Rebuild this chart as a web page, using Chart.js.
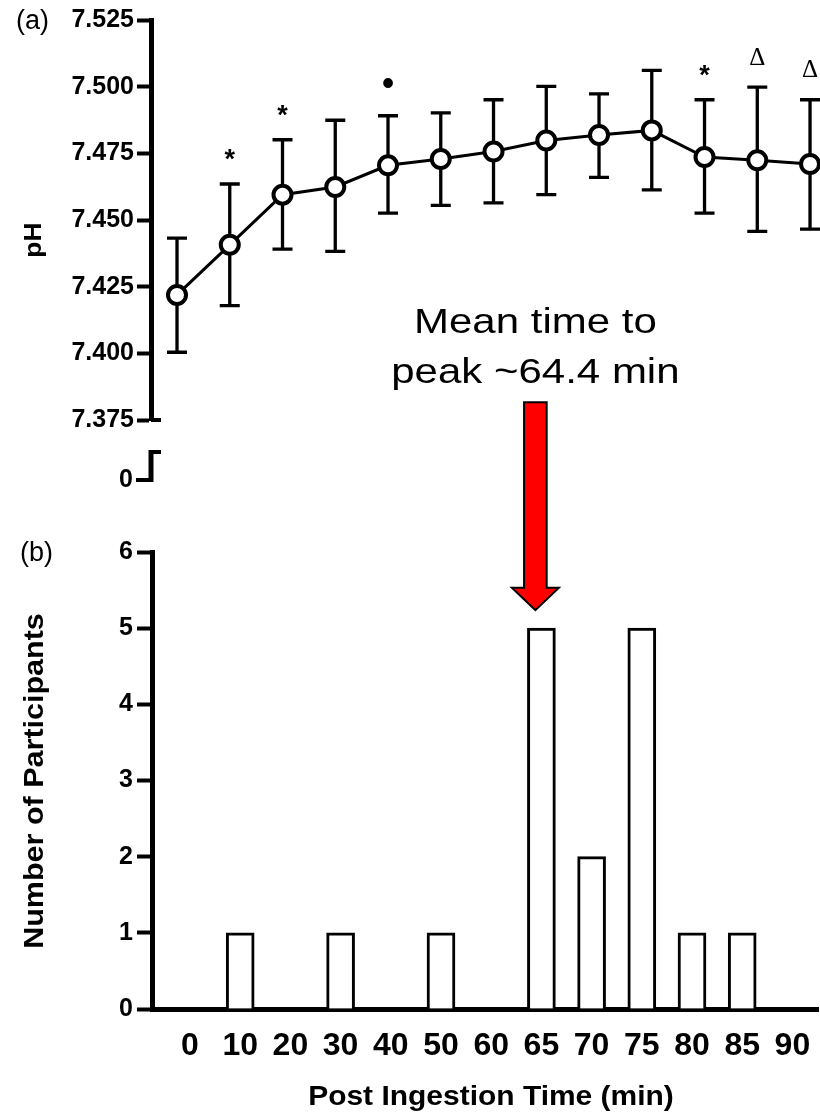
<!DOCTYPE html>
<html lang="en">

<head>
    <meta charset="UTF-8">
    <title>pH and time to peak</title>
    <style>
        body { margin: 0; background: #fff; }
        .wrap { position: relative; width: 820px; height: 1112px; }
        .wrap canvas { position: absolute; left: 0; top: 0; }
    </style>
</head>

<body>
    <div class="wrap">
        <canvas id="phChart" width="820" height="500"></canvas>
        <canvas id="countChart" width="820" height="1112"></canvas>
    </div>

    <script src="https://cdn.jsdelivr.net/npm/chart.js"></script>
    <script>
        // time points (min) - same categories for both panels
        const timeLabels = ['0', '10', '20', '30', '40', '50', '60', '65', '70', '75', '80', '85', '90'];

        // panel (a): mean pH with the top / bottom of each error bar
        const phMean = [7.4219, 7.4407, 7.4595, 7.4624, 7.4705, 7.4729, 7.4757, 7.4798, 7.4819, 7.4836, 7.4736, 7.4724, 7.4710];
        const phUpper = [7.4432, 7.4635, 7.4801, 7.4874, 7.4891, 7.4902, 7.4951, 7.5001, 7.4973, 7.5061, 7.4951, 7.4998, 7.4951];
        const phLower = [7.4004, 7.4179, 7.4391, 7.4382, 7.4526, 7.4555, 7.4564, 7.4595, 7.4660, 7.4613, 7.4526, 7.4457, 7.4466];
        const phMarks = ['', '*', '*', '', '•', '', '', '', '', '', '*', 'Δ', 'Δ'];
        const phTicks = [7.375, 7.400, 7.425, 7.450, 7.475, 7.500, 7.525];

        // panel (b): number of participants peaking at each time point
        const peakCounts = [0, 1, 0, 1, 0, 1, 0, 5, 2, 5, 1, 1, 0];
        const countTicks = [0, 1, 2, 3, 4, 5, 6];
        const meanPeakTime = 64.4;

        const FONT = "'Liberation Sans', Arial, sans-serif";

        const errorBars = {
            id: 'errorBars',
            beforeDatasetsDraw(chart) {
                const { ctx, scales: { x, y } } = chart;
                ctx.save();
                ctx.strokeStyle = '#000';
                ctx.lineWidth = 3.3;
                for (let i = 0; i < phMean.length; i++) {
                    const px = x.getPixelForValue(i);
                    const top = y.getPixelForValue(phUpper[i]);
                    const bot = y.getPixelForValue(phLower[i]);
                    ctx.beginPath();
                    ctx.moveTo(px, top); ctx.lineTo(px, bot);
                    ctx.moveTo(px - 10, top); ctx.lineTo(px + 10, top);
                    ctx.moveTo(px - 10, bot); ctx.lineTo(px + 10, bot);
                    ctx.stroke();
                }
                ctx.restore();
            }
        };

        const phExtras = {
            id: 'phExtras',
            afterDraw(chart) {
                const { ctx, scales: { x, y } } = chart;
                const ax = chart.chartArea.left;
                const yb = y.bottom;
                ctx.save();
                ctx.fillStyle = '#000';
                ctx.strokeStyle = '#000';

                // significance symbols above the error bars
                ctx.textAlign = 'center';
                for (let i = 0; i < phMarks.length; i++) {
                    const m = phMarks[i];
                    if (!m) continue;
                    const px = x.getPixelForValue(i);
                    const py = y.getPixelForValue(phUpper[i]) - 31;
                    if (m === '*') {
                        ctx.font = 'bold 27px ' + FONT;
                        ctx.textBaseline = 'alphabetic';
                        ctx.fillText(m, px, py + 15);
                    } else if (m === '•') {
                        ctx.font = '36px ' + FONT;
                        ctx.textBaseline = 'middle';
                        ctx.fillText(m, px, py);
                    } else {
                        ctx.font = "25px 'Liberation Serif', 'Times New Roman', serif";
                        ctx.textBaseline = 'middle';
                        ctx.fillText(m, px, py + 2);
                    }
                }

                // axis break down to 0
                ctx.lineWidth = 4;
                ctx.beginPath();
                ctx.moveTo(ax, yb); ctx.lineTo(ax + 10, yb);
                ctx.moveTo(ax - 2, yb + 32); ctx.lineTo(ax + 10, yb + 32);
                ctx.moveTo(ax - 15, yb + 60); ctx.lineTo(ax + 2, yb + 60);
                ctx.stroke();
                ctx.lineWidth = 5;
                ctx.beginPath();
                ctx.moveTo(ax, yb + 30); ctx.lineTo(ax, yb + 62);
                ctx.stroke();
                ctx.font = 'bold 25px ' + FONT;
                ctx.textAlign = 'right';
                ctx.textBaseline = 'middle';
                ctx.fillText('0', ax - 18, yb + 60);

                // panel letter and axis title
                ctx.font = '27px ' + FONT;
                ctx.textAlign = 'left';
                ctx.textBaseline = 'alphabetic';
                ctx.fillText('(a)', 16, 29);

                ctx.translate(41, 240);
                ctx.rotate(-Math.PI / 2);
                ctx.scale(1.15, 1);
                ctx.font = 'bold 23px ' + FONT;
                ctx.textAlign = 'center';
                ctx.fillText('pH', 0, 0);
                ctx.restore();
            }
        };

        const countExtras = {
            id: 'countExtras',
            afterDraw(chart) {
                const { ctx, scales: { x, y } } = chart;
                ctx.save();
                ctx.fillStyle = '#000';

                ctx.font = '27px ' + FONT;
                ctx.textAlign = 'left';
                ctx.textBaseline = 'alphabetic';
                ctx.fillText('(b)', 20, 561);

                // x title
                ctx.save();
                ctx.translate(491, 1105);
                ctx.scale(1.07, 1);
                ctx.font = 'bold 28px ' + FONT;
                ctx.textAlign = 'center';
                ctx.fillText('Post Ingestion Time (min)', 0, 0);
                ctx.restore();

                // y title
                ctx.save();
                ctx.translate(43.3, 781);
                ctx.rotate(-Math.PI / 2);
                ctx.scale(1.13, 1);
                ctx.font = 'bold 27px ' + FONT;
                ctx.textAlign = 'center';
                ctx.fillText('Number of Participants', 0, 0);
                ctx.restore();

                // arrow pointing at mean time to peak (between the 60 and 65 categories)
                const i60 = timeLabels.indexOf('60');
                const ax = x.getPixelForValue(i60 + (meanPeakTime - 60) / 5);
                const tipY = y.getPixelForValue(5) - 18;
                const headY = tipY - 22.5;
                const topY = tipY - 208;
                ctx.beginPath();
                ctx.moveTo(ax - 11.3, topY);
                ctx.lineTo(ax + 11.3, topY);
                ctx.lineTo(ax + 11.3, headY);
                ctx.lineTo(ax + 23.5, headY);
                ctx.lineTo(ax, tipY);
                ctx.lineTo(ax - 23.5, headY);
                ctx.lineTo(ax - 11.3, headY);
                ctx.closePath();
                ctx.fillStyle = '#ff0000';
                ctx.fill();
                ctx.lineWidth = 2;
                ctx.strokeStyle = '#000';
                ctx.stroke();

                ctx.fillStyle = '#000';
                ctx.font = '35px ' + FONT;
                ctx.textAlign = 'center';
                ctx.save();
                ctx.translate(ax, topY - 69);
                ctx.scale(1.2, 1);
                ctx.fillText('Mean time to', 0, 0);
                ctx.restore();
                ctx.save();
                ctx.translate(ax, topY - 19);
                ctx.scale(1.2, 1);
                ctx.fillText('peak ~' + meanPeakTime + ' min', 0, 0);
                ctx.restore();

                ctx.restore();
            }
        };

        new Chart(document.getElementById('phChart'), {
            type: 'line',
            data: {
                datasets: [{
                    data: phMean.map((v, i) => ({ x: i, y: v })),
                    borderColor: '#000',
                    borderWidth: 3,
                    pointRadius: 9,
                    pointBorderWidth: 4,
                    pointBackgroundColor: '#fff',
                    pointBorderColor: '#000',
                    tension: 0,
                    fill: false,
                    clip: false
                }]
            },
            options: {
                responsive: false,
                animation: false,
                devicePixelRatio: 1,
                layout: { autoPadding: false, padding: { top: 20, bottom: 80, left: 0, right: 0 } },
                plugins: { legend: { display: false }, tooltip: { enabled: false } },
                scales: {
                    x: { type: 'linear', display: false, offset: false, min: -0.493, max: 12.189 },
                    y: {
                        min: 7.375,
                        max: 7.525,
                        afterFit(s) { s.width = 151; },
                        afterBuildTicks(s) { s.ticks = phTicks.map(v => ({ value: v })); },
                        ticks: {
                            callback: v => Number(v).toFixed(3),
                            color: '#000',
                            padding: 3,
                            font: { family: FONT, size: 25, weight: 'bold' }
                        },
                        grid: { drawOnChartArea: false, tickLength: 14, tickWidth: 4, color: '#000' },
                        border: { width: 5, color: '#000' }
                    }
                }
            },
            plugins: [errorBars, phExtras]
        });

        new Chart(document.getElementById('countChart'), {
            type: 'bar',
            data: {
                datasets: [{
                    data: peakCounts.map((c, i) => ({ x: i, y: c })),
                    backgroundColor: '#fff',
                    borderColor: '#000',
                    borderWidth: 3,
                    barThickness: 28
                }]
            },
            options: {
                responsive: false,
                animation: false,
                devicePixelRatio: 1,
                layout: { autoPadding: false, padding: { top: 552, bottom: 0, left: 0, right: 2 } },
                plugins: { legend: { display: false }, tooltip: { enabled: false } },
                scales: {
                    x: {
                        type: 'linear',
                        offset: false,
                        min: -0.757,
                        max: 12.51,
                        afterFit(s) { s.height = 103; s.paddingLeft = 0; s.paddingRight = 0; },
                        afterBuildTicks(s) { s.ticks = timeLabels.map((_, i) => ({ value: i })); },
                        ticks: {
                            callback: v => timeLabels[v],
                            autoSkip: false,
                            maxRotation: 0,
                            color: '#000',
                            padding: 18,
                            font: { family: FONT, size: 32, weight: 'bold' }
                        },
                        grid: { display: false, drawTicks: false, offset: false },
                        border: { width: 5, color: '#000' }
                    },
                    y: {
                        min: 0,
                        max: 6,
                        afterFit(s) { s.width = 152; },
                        afterBuildTicks(s) { s.ticks = countTicks.map(v => ({ value: v })); },
                        ticks: {
                            color: '#000',
                            padding: 4,
                            font: { family: FONT, size: 25, weight: 'bold' }
                        },
                        grid: { drawOnChartArea: false, tickLength: 15, tickWidth: 4, color: '#000' },
                        border: { width: 5, color: '#000' }
                    }
                }
            },
            plugins: [countExtras]
        });
    </script>
</body>

</html>
